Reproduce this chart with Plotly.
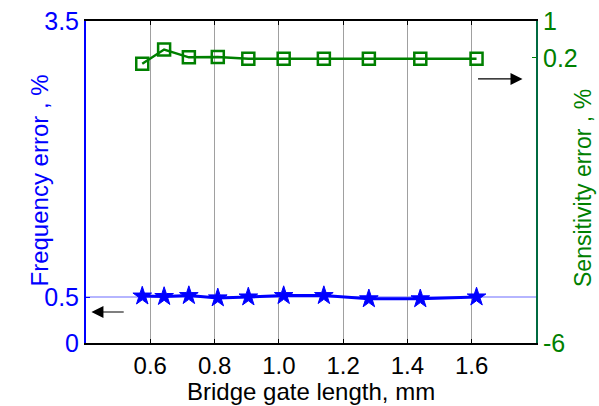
import plotly.graph_objects as go

gate_length = [0.575, 0.643, 0.72, 0.81, 0.905, 1.015, 1.14, 1.28, 1.44, 1.615]
freq_error = [0.51, 0.505, 0.515, 0.49, 0.50, 0.515, 0.515, 0.48, 0.48, 0.50]
sens_error = [0.07, 0.38, 0.21, 0.22, 0.18, 0.18, 0.18, 0.18, 0.18, 0.18]

x_ticks = [0.6, 0.8, 1.0, 1.2, 1.4, 1.6]
y1_ticks = [0, 0.5, 3.5]
y2_ticks = [-6, 0.2, 1]
ref_level = 0.5

BLUE = "#0000FF"
GREEN = "#008000"
FONT = "Liberation Sans, Arial, sans-serif"

fig = go.Figure()

fig.add_shape(type="line", xref="paper", x0=0, x1=1, yref="y", y0=ref_level, y1=ref_level,
              line=dict(color="rgba(120,120,255,0.55)", width=2), layer="below")

fig.add_trace(go.Scatter(x=gate_length, y=freq_error, mode="lines+markers",
                         line=dict(color=BLUE, width=3),
                         marker=dict(symbol="star", size=14, color=BLUE,
                                     line=dict(color=BLUE, width=1)),
                         yaxis="y", showlegend=False))
fig.add_trace(go.Scatter(x=gate_length, y=sens_error, mode="lines+markers",
                         line=dict(color=GREEN, width=2.5),
                         marker=dict(symbol="square-open", size=12, color=GREEN,
                                     line=dict(color=GREEN, width=2.5)),
                         yaxis="y2", showlegend=False))

fig.update_layout(
    width=599, height=406,
    margin=dict(l=86, r=63, t=21, b=63, autoexpand=False),
    paper_bgcolor="white", plot_bgcolor="white",
    font=dict(family=FONT),
    xaxis=dict(range=[0.4, 1.8], tickvals=x_ticks, tickformat=".1f", automargin=False,
               showgrid=True, gridcolor="#a0a0a0", gridwidth=1,
               showline=True, linecolor="black", linewidth=2, mirror="ticks",
               ticks="inside", ticklen=4, tickcolor="black",
               tickfont=dict(size=24, color="black", family=FONT), zeroline=False),
    yaxis=dict(range=[0, 3.5], tickvals=y1_ticks, ticktext=["0", "0.5", "3.5"],
               automargin=False, showgrid=False, zeroline=False,
               showline=True, linecolor=BLUE, linewidth=2,
               ticks="inside", ticklen=4, tickcolor=BLUE,
               tickfont=dict(size=25, color=BLUE, family=FONT)),
    yaxis2=dict(range=[-6, 1], tickvals=y2_ticks, ticktext=["-6", "0.2", "1"],
                automargin=False,
                overlaying="y", side="right", showgrid=False, zeroline=False,
                showline=True, linecolor="#006a40", linewidth=2,
                ticks="inside", ticklen=4, tickcolor=GREEN,
                tickfont=dict(size=25, color=GREEN, family=FONT)),
)

fig.add_annotation(text="Frequency error , %", xref="paper", yref="paper", x=0, y=0.5,
                   xshift=-63, yshift=1, textangle=-90, showarrow=False,
                   font=dict(size=24, color=BLUE, family=FONT))
fig.add_annotation(text="Sensitivity error , %", xref="paper", yref="paper", x=1, y=0.5,
                   xshift=62, yshift=-6, textangle=-90, showarrow=False,
                   font=dict(size=23, color=GREEN, family=FONT))
fig.add_annotation(text="Bridge gate length, mm", xref="paper", yref="paper", x=0.5, y=0,
                   yshift=-48, showarrow=False, yanchor="middle",
                   font=dict(size=24, color="black", family=FONT))

# arrows indicating which axis each series uses
fig.add_annotation(x=0.417, y=0.337, ax=0.522, ay=0.337, xref="x", yref="y",
                   axref="x", ayref="y", showarrow=True, arrowhead=2, arrowsize=2,
                   arrowwidth=1.2, arrowcolor="black", text="")
fig.add_annotation(x=1.758, y=-0.26, ax=1.615, ay=-0.26, xref="x", yref="y2",
                   axref="x", ayref="y2", showarrow=True, arrowhead=2, arrowsize=2,
                   arrowwidth=1.2, arrowcolor="black", text="")

fig.write_html("out.html")
